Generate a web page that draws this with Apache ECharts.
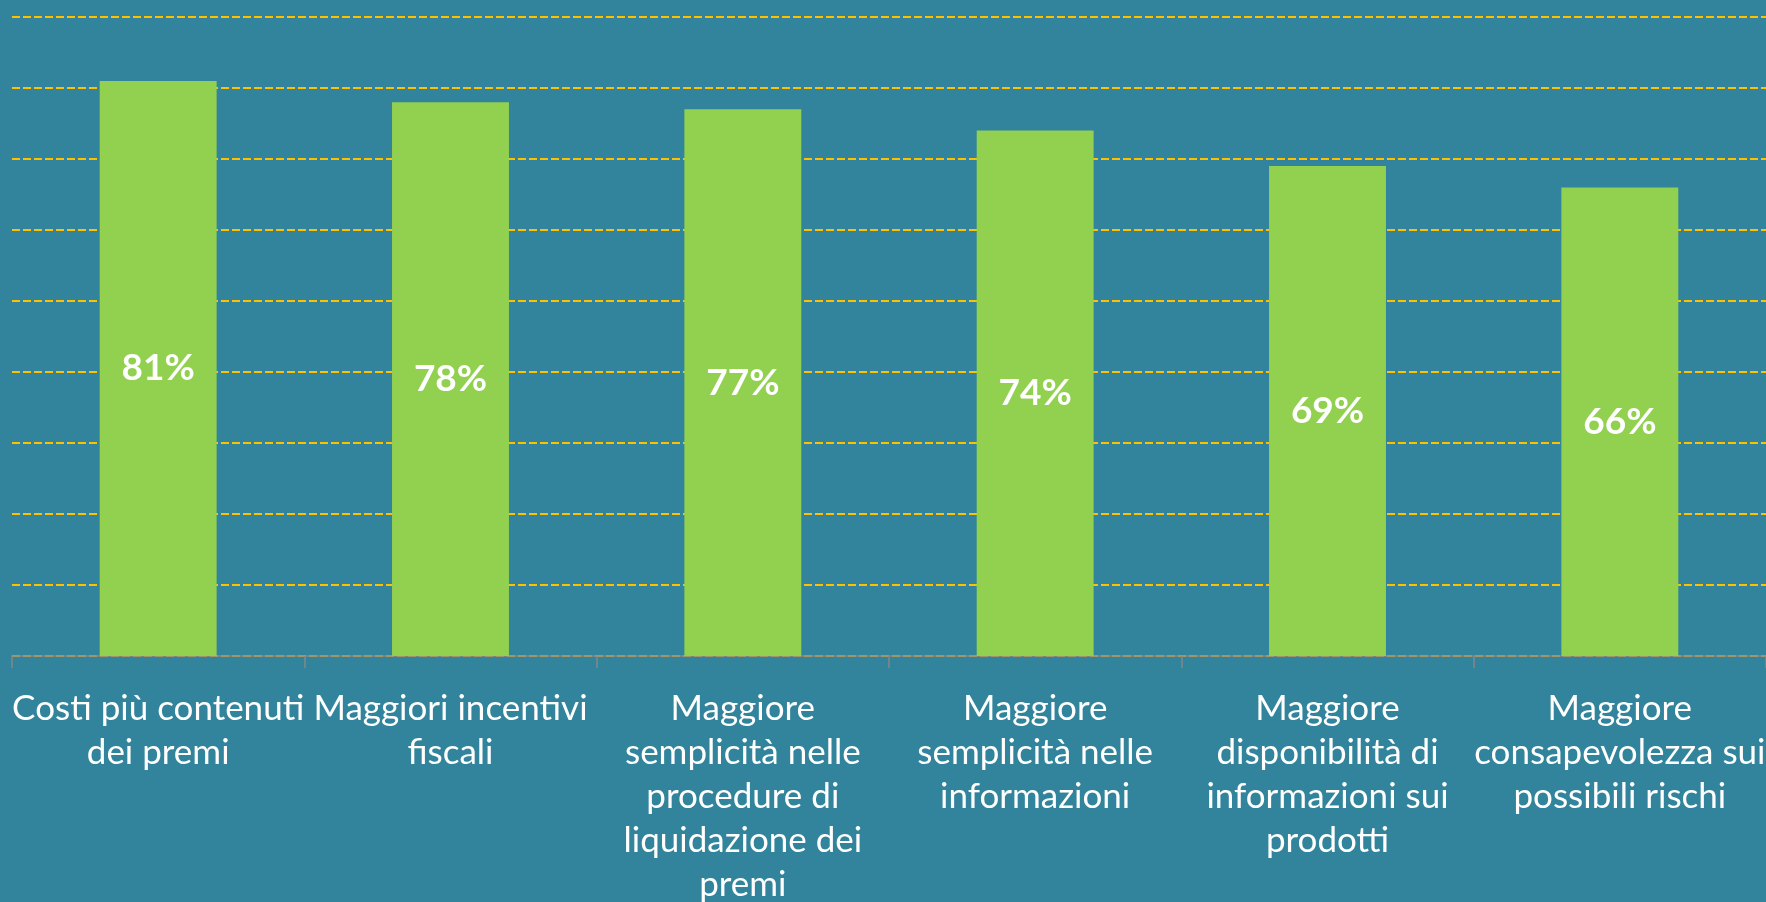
<!DOCTYPE html>
<html>
<head>
<meta charset="utf-8">
<script src="https://cdn.jsdelivr.net/npm/echarts@6/dist/echarts.min.js"></script>
<style>
  html, body { margin: 0; padding: 0; background: #31849B; }
  #chart { width: 1766px; height: 902px; }
</style>
</head>
<body>
<div id="chart"></div>
<script>
// categorie (con a capo come nel grafico originale)
var categories = [
  'Costi più contenuti\ndei premi',
  'Maggiori incentivi\nfiscali',
  'Maggiore\nsemplicità nelle\nprocedure di\nliquidazione dei\npremi',
  'Maggiore\nsemplicità nelle\ninformazioni',
  'Maggiore\ndisponibilità di\ninformazioni sui\nprodotti',
  'Maggiore\nconsapevolezza sui\npossibili rischi'
]
// percentuali
var values = [81, 78, 77, 74, 69, 66]

var myChart = echarts.init(document.getElementById('chart'))
var option = {
  backgroundColor: '#31849B',
  animation: false,
  grid: {
    left: 12,
    right: 0,
    top: 17,
    bottom: 246,
    outerBoundsMode: 'none',
    containLabel: false
  },
  xAxis: {
    type: 'category',
    data: categories,
    axisLine: { lineStyle: { color: '#868686', width: 1.5 } },
    axisTick: { show: true, length: 12, lineStyle: { color: '#868686', width: 1.5 } },
    axisLabel: {
      color: '#ffffff',
      fontFamily: 'Lato',
      fontSize: 35,
      lineHeight: 44,
      margin: 31,
      interval: 0,
      align: 'center'
    }
  },
  yAxis: {
    type: 'value',
    min: 0,
    max: 90,
    interval: 10,
    axisLabel: { show: false },
    axisLine: { show: false },
    axisTick: { show: false },
    splitLine: {
      lineStyle: { color: '#FFC000', type: [8, 3], width: 2 }
    }
  },
  series: [{
    type: 'bar',
    data: values,
    barWidth: '40%',
    itemStyle: { color: '#92D050' },
    label: {
      show: true,
      position: 'inside',
      formatter: '{c}%',
      color: '#ffffff',
      fontFamily: 'Lato',
      fontWeight: 'bold',
      fontSize: 37
    }
  }]
}
myChart.setOption(option)
</script>
</body>
</html>
